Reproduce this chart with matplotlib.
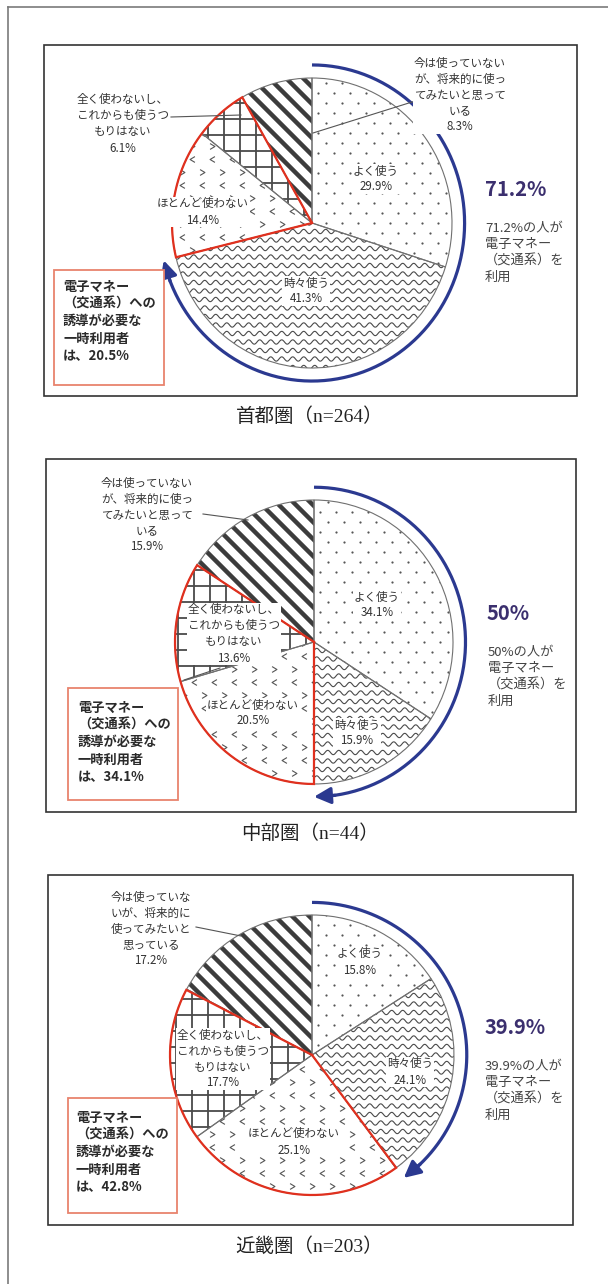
import numpy as np
import matplotlib
matplotlib.use('Agg')
import matplotlib.pyplot as plt
from matplotlib.patches import Rectangle
from matplotlib.path import Path
from matplotlib.collections import LineCollection

plt.rcParams['font.family'] = ['Noto Sans CJK JP', 'DejaVu Sans']

# 電子マネー（交通系）の利用頻度、12時の位置から時計回り
categories = ['よく使う', '時々使う', 'ほとんど使わない',
              '全く使わないし、これからも使うつもりはない',
              '今は使っていないが、将来的に使ってみたいと思っている']
regions = ['首都圏', '中部圏', '近畿圏']
n_resp = [264, 44, 203]
shares_shuto = [29.9, 41.3, 14.4, 6.1, 8.3]
shares_chubu = [34.1, 15.9, 20.5, 13.6, 15.9]
shares_kinki = [15.8, 24.1, 25.1, 17.7, 17.2]
users_pct = [71.2, 50, 39.9]          # よく使う + 時々使う
occasional_pct = [20.5, 34.1, 42.8]   # ほとんど使わない + 全く使わない

shares_all = [shares_shuto, shares_chubu, shares_kinki]

# 図中のラベル（改行位置は地域ごと）
lab_never = '全く使わないし、\nこれからも使うつ\nもりはない'
lab_future = ['今は使っていない\nが、将来的に使っ\nてみたいと思って\nいる',
              '今は使っていない\nが、将来的に使っ\nてみたいと思って\nいる',
              '今は使っていな\nいが、将来的に\n使ってみたいと\n思っている']

W, H = 608, 1284
BLUE = '#2b3990'
RED = '#e0301e'
PAT = '#4a4a4a'

# 各パネルの配置（ピクセル）
layout = [
    dict(frame=(44, 45, 577, 396), cap_y=417, center=(312, 223), rx=140, ry=145,
         labels=[(376, 179), (306, 291), (203, 212), (123, 124), (460, 95)],
         leaders=[((171, 117), (241, 115)), ((428, 97), (313, 133))],
         big=(485, 190), body=(485, 253), box=(54, 270, 164, 385), box_txt=(63, 321)),
    dict(frame=(46, 459, 576, 812), cap_y=834, center=(314, 642), rx=139, ry=142,
         labels=[(377, 605), (357, 733), (253, 713), (234, 634), (147, 515)],
         leaders=[((184, 680), (220, 668)), ((203, 514), (248, 520))],
         big=(487, 613), body=(488, 677), box=(68, 688, 178, 800), box_txt=(78, 742)),
    dict(frame=(48, 875, 573, 1225), cap_y=1246, center=(312, 1055), rx=142, ry=140,
         labels=[(360, 962), (410, 1072), (294, 1142), (223, 1059), (151, 929)],
         leaders=[((196, 927), (241, 936))],
         big=(485, 1028), body=(485, 1091), box=(68, 1098, 177, 1213), box_txt=(76, 1152)),
]


def add_lines(ax, segs, wedge, lw, color=PAT):
    lc = LineCollection(segs, colors=color, linewidths=lw, zorder=2)
    ax.add_collection(lc)
    lc.set_clip_path(wedge)


def fill_pattern(ax, wedge, kind, rx, ry):
    span = np.arange(-170, 171, 1.0)
    if kind == 'dots':
        xs, ys = [], []
        for i, yy in enumerate(np.arange(-170, 171, 10)):
            off = 8 if i % 2 else 0
            col = np.arange(-170, 171, 16) + off
            xs.extend(col)
            ys.extend([yy] * len(col))
        ln, = ax.plot(np.array(xs) / rx, np.array(ys) / ry, ls='none', marker='o',
                      ms=1.6, mew=0, color='#555555', zorder=2)
        ln.set_clip_path(wedge)
    elif kind == 'wave':
        segs = []
        for yy in np.arange(-170, 171, 8.5):
            yv = yy + 2.2 * np.sin(2 * np.pi * span / 11)
            segs.append(np.column_stack([span / rx, yv / ry]))
        add_lines(ax, segs, wedge, 0.8)
    elif kind == 'chevron':
        left = Path([(0.5, 0.6), (-0.5, 0), (0.5, -0.6)],
                    [Path.MOVETO, Path.LINETO, Path.LINETO])
        right = Path([(-0.5, 0.6), (0.5, 0), (-0.5, -0.6)],
                     [Path.MOVETO, Path.LINETO, Path.LINETO])
        rows = np.arange(-170, 171, 13)
        for mk, parity in ((left, 0), (right, 1)):
            xs, ys = [], []
            for i, yy in enumerate(rows):
                if i % 2 != parity:
                    continue
                off = 10 if (i // 2) % 2 else 0
                col = np.arange(-170, 171, 20) + off
                xs.extend(col)
                ys.extend([yy] * len(col))
            ln, = ax.plot(np.array(xs) / rx, np.array(ys) / ry, ls='none', marker=mk,
                          ms=4.2, mfc='none', mec='#555555', mew=0.8, zorder=2)
            ln.set_clip_path(wedge)
    elif kind == 'grid':
        segs = []
        for v in np.arange(-168, 170, 16):
            segs.append([(v / rx, -1.2), (v / rx, 1.2)])
            segs.append([(-1.2, v / ry), (1.2, v / ry)])
        add_lines(ax, segs, wedge, 1.3)
    elif kind == 'stripe':
        segs = []
        for c in np.arange(-340, 341, 17):
            x0, x1 = -200, 200
            segs.append([(x0 / rx, (-x0 + c) / ry), (x1 / rx, (-x1 + c) / ry)])
        add_lines(ax, segs, wedge, 3.2, '#3c3c3c')


patterns = ['dots', 'wave', 'chevron', 'grid', 'stripe']

fig = plt.figure(figsize=(W / 100, H / 100), dpi=100)

L = 1.3
for k, (shares, lay) in enumerate(zip(shares_all, layout)):
    cx, cy = lay['center']
    rx, ry = lay['rx'], lay['ry']
    ax = fig.add_axes([(cx - L * rx) / W, 1 - (cy + L * ry) / H,
                       2 * L * rx / W, 2 * L * ry / H], zorder=2)
    wedges, _ = ax.pie(shares, startangle=90, counterclock=False, radius=1,
                       wedgeprops=dict(facecolor='none', edgecolor='#707070',
                                       linewidth=0.8, zorder=3))
    ax.set_xlim(-L, L)
    ax.set_ylim(-L, L)
    ax.set_aspect('auto')
    ax.axis('off')
    for w, kind in zip(wedges, patterns):
        fill_pattern(ax, w, kind, rx, ry)

    # 一時利用者（ほとんど＋全く）の赤枠
    cum = np.cumsum([0] + shares)
    a0 = 90 - 360 * cum[2] / 100
    a1 = 90 - 360 * cum[4] / 100
    t = np.radians(np.linspace(a0, a1, 200))
    ax.plot(np.r_[0, np.cos(t), 0], np.r_[0, np.sin(t), 0], color=RED, lw=1.6,
            zorder=4, solid_joinstyle='miter')

    # 利用者（よく使う＋時々使う）を示す青い矢印
    R = 1.09
    end = 90 - 360 * users_pct[k] / 100
    t = np.radians(np.linspace(90, end + 7, 200))
    ax.plot(R * np.cos(t), R * np.sin(t), color=BLUE, lw=2.3, zorder=4,
            solid_capstyle='butt')
    e, s = np.radians(end), np.radians(end + 8)
    ax.annotate('', xy=(R * np.cos(e), R * np.sin(e)),
                xytext=(R * np.cos(s), R * np.sin(s)),
                arrowprops=dict(arrowstyle='-|>,head_length=1.0,head_width=0.5',
                                color=BLUE, lw=2.3, shrinkA=0, shrinkB=0),
                zorder=4)

# 枠・ラベル類
ov = fig.add_axes([0, 0, 1, 1], zorder=5)
ov.set_xlim(0, W)
ov.set_ylim(H, 0)
ov.axis('off')
ov.patch.set_alpha(0)

ov.plot([8, W], [6.5, 6.5], color='#7a7a7a', lw=1.2)
ov.plot([8, 8], [6.5, H], color='#7a7a7a', lw=1.2)

for k, (shares, lay) in enumerate(zip(shares_all, layout)):
    x0, y0, x1, y1 = lay['frame']
    ov.add_patch(Rectangle((x0, y0), x1 - x0, y1 - y0, fill=False,
                           edgecolor='#333333', lw=1.2))
    ov.text((x0 + x1) / 2 - 1, lay['cap_y'], f'{regions[k]}（n={n_resp[k]}）',
            ha='center', va='center', fontsize=14, color='#222222',
            family=['Liberation Serif', 'Noto Sans CJK JP'])

    names = [categories[0], categories[1], categories[2], lab_never, lab_future[k]]
    for i, ((lx, ly), name) in enumerate(zip(lay['labels'], names)):
        ov.text(lx, ly, f'{name}\n{shares[i]:.1f}%', ha='center', va='center',
                fontsize=8.3, color='#333333', linespacing=1.3,
                bbox=dict(facecolor='white', edgecolor='none', pad=0.5))
    for (p, q) in lay['leaders']:
        ov.plot([p[0], q[0]], [p[1], q[1]], color='#555555', lw=0.8)

    bx, by = lay['big']
    ov.text(bx, by, f'{users_pct[k]:g}%', ha='left', va='center', fontsize=14.5,
            fontweight='bold', color='#3b2f6e')
    tx, ty = lay['body']
    ov.text(tx, ty, f'{users_pct[k]:g}%の人が\n電子マネー\n（交通系）を\n利用',
            ha='left', va='center', fontsize=9.5, color='#444444', linespacing=1.3)

    b0, b1, b2, b3 = lay['box']
    ov.add_patch(Rectangle((b0, b1), b2 - b0, b3 - b1, facecolor='white',
                           edgecolor='#e8836d', lw=1.3))
    qx, qy = lay['box_txt']
    ov.text(qx, qy, f'電子マネー\n（交通系）への\n誘導が必要な\n一時利用者\nは、{occasional_pct[k]:g}%',
            ha='left', va='center', fontsize=9.5, fontweight='bold', color='#2a2a2a',
            linespacing=1.3)

fig.savefig('out.png', dpi=100)
